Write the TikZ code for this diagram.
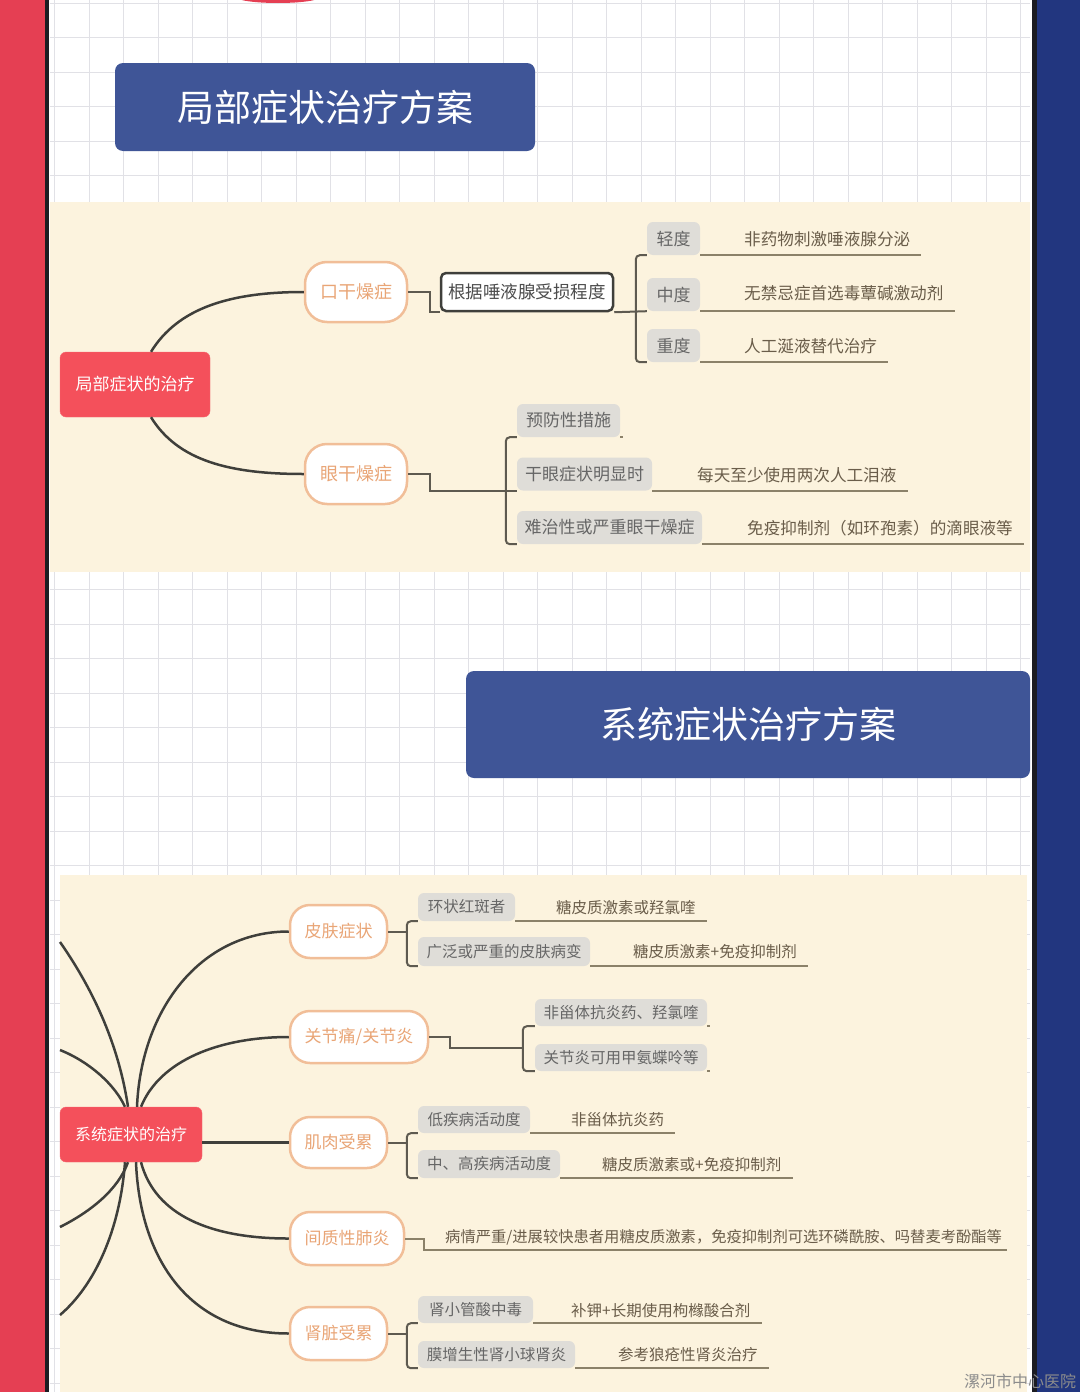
\documentclass[tikz,border=0pt]{standalone}
\usepackage{fontspec}
\setmainfont{Noto Sans CJK SC}
\usetikzlibrary{calc}
\definecolor{stripered}{HTML}{E53F53}
\definecolor{stripenavy}{HTML}{22367F}
\definecolor{stripedark}{HTML}{1C1C22}
\definecolor{gridgray}{HTML}{E1E1E6}
\definecolor{panelcream}{HTML}{FCF3DE}
\definecolor{titleblue}{HTML}{3F5597}
\definecolor{rootred}{HTML}{F4505B}
\definecolor{pillline}{HTML}{F1BE98}
\definecolor{pilltext}{HTML}{E9A576}
\definecolor{greyfill}{HTML}{DFDDD8}
\definecolor{greytext}{HTML}{666666}
\definecolor{leaftext}{HTML}{6A5D4A}
\definecolor{linkgray}{HTML}{5E5A50}
\definecolor{ulinegray}{HTML}{8B8169}
\definecolor{curvegray}{HTML}{3F3F3B}
\tikzset{%
  gridline/.style = {draw=gridgray, line width=1},
  titlebox/.style = {fill=titleblue, rounded corners=8, text=white, inner sep=0,
    font=\fontsize{37pt}{40pt}\selectfont},
  rootbox/.style  = {fill=rootred, draw=rootred!85!white, rounded corners=6, text=white,
    inner sep=0, font=\fontsize{17pt}{20pt}\selectfont},
  pill/.style     = {draw=pillline, line width=2.5, fill=white, rounded corners=22,
    text=pilltext, inner sep=0, font=\fontsize{18pt}{20pt}\selectfont},
  framebox/.style = {draw=curvegray, line width=2.5, fill=white, rounded corners=5,
    text=black!70, inner sep=0, font=\fontsize{17.5pt}{20pt}\selectfont},
  greybox/.style  = {fill=greyfill, rounded corners=6, text=greytext, inner sep=0,
    font=\fontsize{17pt}{20pt}\selectfont},
  leaf/.style     = {anchor=west, text=leaftext, inner sep=0,
    font=\fontsize{16.6pt}{20pt}\selectfont},
  small/.style    = {font=\fontsize{15.5pt}{18pt}\selectfont},
  curve/.style    = {draw=curvegray, line width=2.5},
  link/.style     = {draw=linkgray, line width=2},
  uline/.style    = {draw=ulinegray, line width=2}
}
\begin{document}
\begin{tikzpicture}[x=1pt,y=-1pt]
    \clip (0,0) rectangle (1080,1392);
    \useasboundingbox (0,0) rectangle (1080,1392);

    %Hintergrund
    \fill[white] (0,0) rectangle (1080,1392);
    \foreach \i in {0,...,28} \draw[gridline] ({54.5+34.5*\i},0) -- ++(0,1392);
    \foreach \j in {0,...,40} \draw[gridline] (50,{3+34.5*\j}) -- ++(980,0);
    \fill[stripered] (0,0) rectangle (45,1392);
    \fill[stripedark] (45,0) rectangle (49,1392);
    \fill[stripedark] (1032,0) rectangle (1037,1392);
    \fill[stripenavy] (1037,0) rectangle (1080,1392);
    \fill[stripered] (278,-3) ellipse [x radius=42, y radius=6];
    \fill[panelcream] (50,202) rectangle (1030,572);
    \fill[panelcream] (60,875) rectangle (1027,1392);

    %Titel
    \node[titlebox, minimum width=420, minimum height=88] (t1) at (325,107) {局部症状治疗方案};
    \node[titlebox, minimum width=564, minimum height=107] (t2) at (748,724.5) {系统症状治疗方案};

    %局部症状的治疗
    \node[rootbox, minimum width=150, minimum height=65] (root1) at (135,384.5) {局部症状的治疗};
    \node[pill, minimum width=102, minimum height=60] (p1) at (356,292) {口干燥症};
    \node[pill, minimum width=102, minimum height=60] (p2) at (356,474) {眼干燥症};
    \draw[curve] ([xshift=16pt]root1.north) .. controls (178,308) and (230,292) .. (p1.west);
    \draw[curve] ([xshift=16pt]root1.south) .. controls (178,461) and (230,474) .. (p2.west);

    %口干燥症
    \node[framebox, minimum width=172, minimum height=38] (fb) at (527,292) {根据唾液腺受损程度};
    \draw[link] (p1.east) -- ++(22,0) |- (fb.south west);
    \node[greybox, minimum width=53, minimum height=33] (k11) at (673.5,238.5) {轻度};
    \node[greybox, minimum width=53, minimum height=33] (k12) at (673.5,294.5) {中度};
    \node[greybox, minimum width=53, minimum height=33] (k13) at (673.5,345.5) {重度};
    \draw[link, rounded corners=4] (k11.south west) -- ++(-11,0) |- (k13.south west);
    \draw[link] (fb.south east) -- (k12.south west);
    \node[leaf] (l11) at (744,239) {非药物刺激唾液腺分泌};
    \node[leaf] (l12) at (744,293) {无禁忌症首选毒蕈碱激动剂};
    \node[leaf] (l13) at (744,346) {人工涎液替代治疗};
    \draw[uline] (k11.south east) -- (l11.east |- k11.south) -- ++(11,0);
    \draw[uline] (k12.south east) -- (l12.east |- k12.south) -- ++(11,0);
    \draw[uline] (k13.south east) -- (l13.east |- k13.south) -- ++(11,0);

    %眼干燥症
    \node[greybox, minimum width=103, minimum height=33] (k21) at (568.5,420.5) {预防性措施};
    \node[greybox, minimum width=135, minimum height=33] (k22) at (584.5,474) {干眼症状明显时};
    \node[greybox, minimum width=185, minimum height=33] (k23) at (609.5,527.5) {难治性或严重眼干燥症};
    \draw[link, rounded corners=4] (k21.south west) -- ++(-11,0) |- (k23.south west);
    \draw[link] (p2.east) -- ++(22,0) |- (k22.south west);
    \draw[uline] (k21.south east) -- ++(3,0);
    \node[leaf] (l22) at (697,475) {每天至少使用两次人工泪液};
    \node[leaf] (l23) at (747,528) {免疫抑制剂（如环孢素）的滴眼液等};
    \draw[uline] (k22.south east) -- (l22.east |- k22.south) -- ++(11,0);
    \draw[uline] (k23.south east) -- (l23.east |- k23.south) -- ++(11,0);

    %系统症状的治疗
    \node[rootbox, minimum width=142, minimum height=55, font=\fontsize{16pt}{18pt}\selectfont] (root2) at (131,1134.5) {系统症状的治疗};
    \node[pill, rounded corners=20, minimum width=97, minimum height=53, font=\fontsize{17pt}{20pt}\selectfont] (q1) at (338.5,931.5) {皮肤症状};
    \node[pill, rounded corners=20, minimum width=138, minimum height=52, font=\fontsize{17pt}{20pt}\selectfont] (q2) at (359,1037) {关节痛/关节炎};
    \node[pill, rounded corners=20, minimum width=97, minimum height=51, font=\fontsize{17pt}{20pt}\selectfont] (q3) at (338.5,1142.5) {肌肉受累};
    \node[pill, rounded corners=20, minimum width=114, minimum height=53, font=\fontsize{17pt}{20pt}\selectfont] (q4) at (347,1238.5) {间质性肺炎};
    \node[pill, rounded corners=20, minimum width=97, minimum height=53, font=\fontsize{17pt}{20pt}\selectfont] (q5) at (338.5,1333.5) {肾脏受累};
    \coordinate (e1) at (60,942);
    \coordinate (e2) at (60,1050);
    \coordinate (e3) at (60,1227);
    \coordinate (e4) at (60,1315);
    \draw[curve] ([xshift=6pt]root2.north) .. controls (141,1010) and (200,931.5) .. (q1.west);
    \draw[curve] ([xshift=10pt]root2.north) .. controls (160,1060) and (220,1037) .. (q2.west);
    \draw[curve] (root2.east |- q3.west) -- (q3.west);
    \draw[curve] ([xshift=10pt]root2.south) .. controls (155,1215) and (210,1238.5) .. (q4.west);
    \draw[curve] ([xshift=5pt]root2.south) .. controls (140,1260) and (190,1333.5) .. (q5.west);
    \draw[curve] ([xshift=-3pt]root2.north) .. controls (118,1040) and (90,985) .. (e1);
    \draw[curve] ([xshift=-6pt]root2.north) .. controls (115,1085) and (90,1062) .. (e2);
    \draw[curve] ([xshift=-3pt]root2.south) .. controls (118,1190) and (90,1212) .. (e3);
    \draw[curve] ([xshift=-6pt]root2.south) .. controls (120,1230) and (95,1285) .. (e4);

    %皮肤症状
    \node[greybox, small, minimum width=97, minimum height=28] (r11) at (466.5,907) {环状红斑者};
    \node[greybox, small, minimum width=172, minimum height=29] (r12) at (504,951.5) {广泛或严重的皮肤病变};
    \draw[link, rounded corners=4] (r11.south west) -- ++(-11,0) |- (r12.south west);
    \draw[link] (q1.east) -- ++(20,0);
    \node[leaf, small] (m11) at (556,908) {糖皮质激素或羟氯喹};
    \node[leaf, small] (m12) at (633,952) {糖皮质激素+免疫抑制剂};
    \draw[uline] (r11.south east) -- (m11.east |- r11.south) -- ++(11,0);
    \draw[uline] (r12.south east) -- (m12.east |- r12.south) -- ++(11,0);

    %关节痛/关节炎
    \node[greybox, small, minimum width=172, minimum height=27] (r21) at (621,1012.5) {非甾体抗炎药、羟氯喹};
    \node[greybox, small, minimum width=172, minimum height=27] (r22) at (621,1057.5) {关节炎可用甲氨蝶呤等};
    \coordinate (j2) at (523,1048);
    \draw[link, rounded corners=4] (r21.south west) -- ++(-12,0) |- (r22.south west);
    \draw[link] (q2.east) -- ++(21,0) |- (j2);
    \draw[uline] (r21.south east) -- ++(3,0);
    \draw[uline] (r22.south east) -- ++(3,0);

    %肌肉受累
    \node[greybox, small, minimum width=112, minimum height=27] (r31) at (474,1119.5) {低疾病活动度};
    \node[greybox, small, minimum width=142, minimum height=28] (r32) at (489,1164) {中、高疾病活动度};
    \draw[link, rounded corners=4] (r31.south west) -- ++(-11,0) |- (r32.south west);
    \draw[link] (q3.east) -- ++(20,0);
    \node[leaf, small] (m31) at (571,1120) {非甾体抗炎药};
    \node[leaf, small] (m32) at (602,1165) {糖皮质激素或+免疫抑制剂};
    \draw[uline] (r31.south east) -- (m31.east |- r31.south) -- ++(11,0);
    \draw[uline] (r32.south east) -- (m32.east |- r32.south) -- ++(11,0);

    %间质性肺炎
    \node[leaf, font=\fontsize{15.3pt}{18pt}\selectfont] (m41) at (445,1237) {病情严重/进展较快患者用糖皮质激素，免疫抑制剂可选环磷酰胺、吗替麦考酚酯等};
    \coordinate (j4) at (1007,1250);
    \draw[uline] (q4.east) -- ++(19,0) |- (j4);

    %肾脏受累
    \node[greybox, small, minimum width=115, minimum height=27] (r51) at (475.5,1309.5) {肾小管酸中毒};
    \node[greybox, small, minimum width=157, minimum height=27] (r52) at (496.5,1354.5) {膜增生性肾小球肾炎};
    \draw[link, rounded corners=4] (r51.south west) -- ++(-11,0) |- (r52.south west);
    \draw[link] (q5.east) -- ++(20,0);
    \node[leaf, small] (m51) at (571,1311) {补钾+长期使用枸橼酸合剂};
    \node[leaf, small] (m52) at (618,1355) {参考狼疮性肾炎治疗};
    \draw[uline] (r51.south east) -- (m51.east |- r51.south) -- ++(11,0);
    \draw[uline] (r52.south east) -- (m52.east |- r52.south) -- ++(11,0);

    %Wasserzeichen
    \node[text=black!45, inner sep=0, font=\fontsize{16pt}{18pt}\selectfont] (wm) at (1020,1381) {漯河市中心医院};
\end{tikzpicture}
\end{document}
